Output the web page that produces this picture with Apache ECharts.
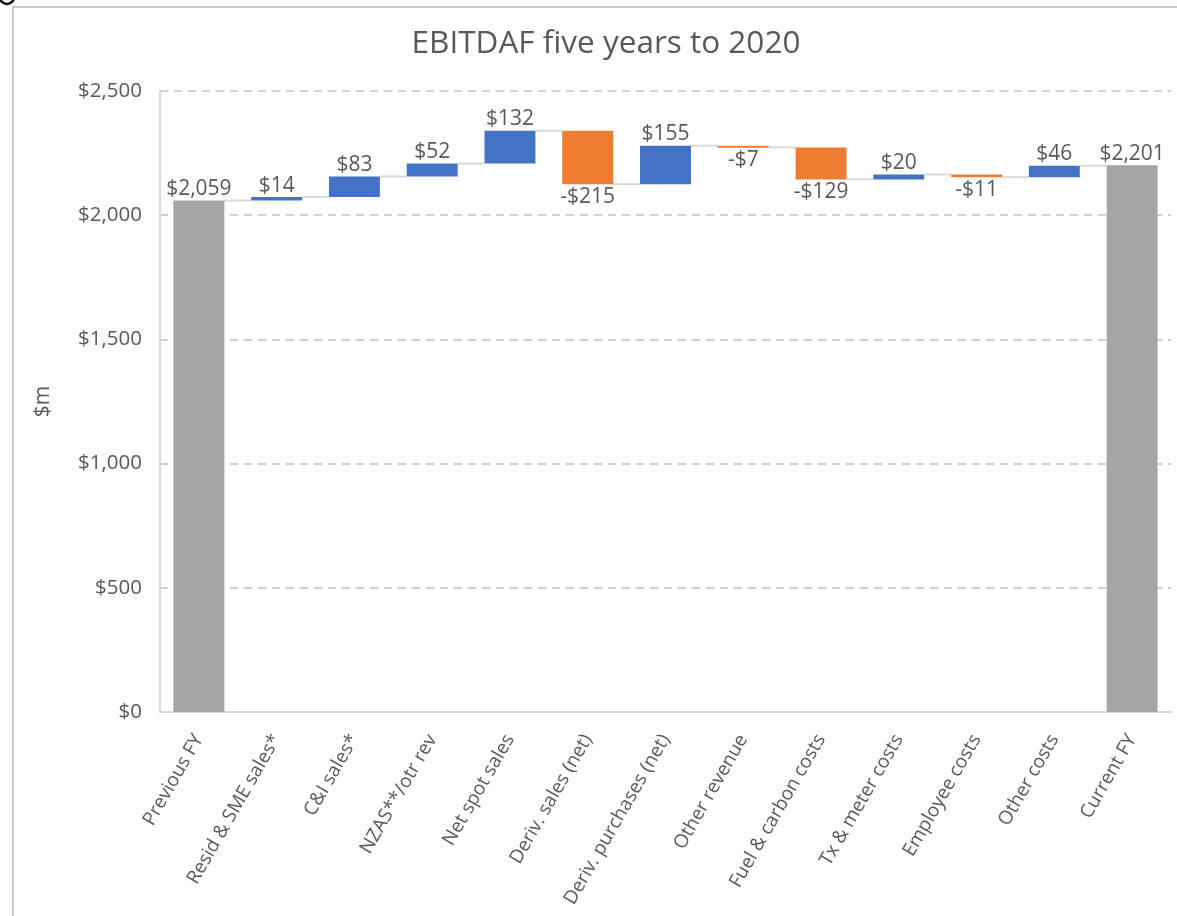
<!DOCTYPE html>
<html>
<head>
<meta charset="utf-8">
<title>EBITDAF five years to 2020</title>
<script src="https://cdn.jsdelivr.net/npm/echarts@6/dist/echarts.min.js"></script>
<style>
  html, body { margin: 0; padding: 0; background: #ffffff; }
  #chart { width: 1177px; height: 916px; }
</style>
</head>
<body>
<div id="chart"></div>
<script>
// Waterfall categories, from the opening total to the closing total
const categories = [
  'Previous FY', 'Resid & SME sales*', 'C&I sales*', 'NZAS**/otr rev',
  'Net spot sales', 'Deriv. sales (net)', 'Deriv. purchases (net)',
  'Other revenue', 'Fuel & carbon costs', 'Tx & meter costs',
  'Employee costs', 'Other costs', 'Current FY'
];
// Opening/closing totals and the movements between them ($m)
const values = [2059, 14, 83, 52, 132, -215, 155, -7, -129, 20, -11, 46, 2201];
const isTotal = [true, false, false, false, false, false, false, false, false, false, false, false, true];
// Value axis ticks
const yTicks = [0, 500, 1000, 1500, 2000, 2500];

const COLORS = { up: '#4472C4', down: '#ED7D31', total: '#A5A5A5' };
const TEXT = '#595959';
const FONT = '"Open Sans", "Noto Sans", sans-serif';

// Running levels: each bar spans [low, high]; `end` is where the next bar starts
const bars = [];
let level = 0;
values.forEach((v, i) => {
  if (isTotal[i]) {
    bars.push({ low: 0, high: v, end: v, v: v });
    level = v;
  } else {
    const start = level, end = level + v;
    bars.push({ low: Math.min(start, end), high: Math.max(start, end), end: end, v: v });
    level = end;
  }
});

function money(v) {
  const s = '$' + Math.abs(v).toLocaleString('en-US');
  return v < 0 ? '-' + s : s;
}

const chart = echarts.init(document.getElementById('chart'), null, { renderer: 'canvas' });

chart.setOption({
  backgroundColor: '#ffffff',
  animation: false,
  title: {
    text: 'EBITDAF five years to 2020',
    left: 601,
    textAlign: 'center',
    top: 23,
    textStyle: { color: TEXT, fontFamily: FONT, fontSize: 31.5, fontWeight: 'normal' }
  },
  graphic: [
    {
      type: 'rect',
      shape: { x: 13, y: 7, width: 1200, height: 960 },
      style: { fill: 'none', stroke: '#c8c8c8', lineWidth: 2 },
      silent: true
    },
    {
      type: 'circle',
      shape: { cx: 7, cy: -3, r: 7 },
      style: { fill: 'none', stroke: '#111111', lineWidth: 2.5 },
      silent: true
    }
  ],
  grid: { left: 160, right: 6, top: 91, bottom: 204, containLabel: false },
  xAxis: {
    type: 'category',
    data: categories,
    axisLine: { show: true, lineStyle: { color: '#d9d9d9', width: 2 } },
    axisTick: { show: false },
    axisLabel: {
      interval: 0,
      rotate: 60,
      margin: 24,
      color: TEXT,
      fontFamily: FONT,
      fontSize: 19
    }
  },
  yAxis: {
    type: 'value',
    min: yTicks[0],
    max: yTicks[yTicks.length - 1],
    interval: 500,
    name: '$m',
    nameLocation: 'middle',
    nameGap: 106,
    nameRotate: 90,
    nameTextStyle: { color: TEXT, fontFamily: FONT, fontSize: 21 },
    axisLine: { show: true, lineStyle: { color: '#d9d9d9', width: 2 } },
    axisTick: { show: false },
    axisLabel: {
      color: TEXT,
      fontFamily: FONT,
      fontSize: 20.5,
      margin: 18,
      formatter: v => money(v)
    },
    splitLine: { show: true, lineStyle: { color: '#d0d0d0', width: 2, type: [8, 6] } }
  },
  series: [{
    type: 'custom',
    clip: false,
    data: bars.map((b, i) => [i, b.low, b.high]),
    renderItem: function (params, api) {
      const i = params.dataIndex;
      const b = bars[i];
      const bandW = api.size([1, 0])[0];
      const w = bandW * 0.655;
      const top = api.coord([i, b.high]);
      const bot = api.coord([i, b.low]);
      const cx = top[0];
      const color = isTotal[i] ? COLORS.total : (b.v >= 0 ? COLORS.up : COLORS.down);
      const children = [];

      // connector to the next bar at the running level
      if (i < bars.length - 1) {
        const p = api.coord([i, b.end]);
        const q = api.coord([i + 1, b.end]);
        children.push({
          type: 'line',
          shape: { x1: p[0] + w / 2, y1: p[1], x2: q[0] - w / 2, y2: q[1] },
          style: { stroke: '#d9d9d9', lineWidth: 2 },
          z2: 1
        });
      }

      children.push({
        type: 'rect',
        shape: { x: cx - w / 2, y: top[1], width: w, height: Math.max(bot[1] - top[1], 2) },
        style: { fill: color },
        z2: 2
      });

      const below = !isTotal[i] && b.v < 0;
      children.push({
        type: 'text',
        x: cx,
        y: below ? bot[1] + 2 : top[1] - 1,
        style: {
          text: money(b.v),
          fill: TEXT,
          font: '21px ' + FONT,
          align: 'center',
          verticalAlign: below ? 'top' : 'bottom'
        },
        z2: 3
      });

      return { type: 'group', children: children };
    }
  }]
});
</script>
</body>
</html>
